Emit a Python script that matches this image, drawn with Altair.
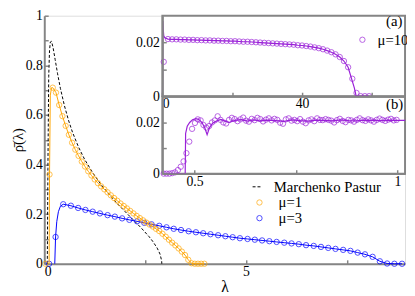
import altair as alt
import pandas as pd

# ---------------- values ----------------
# main panel: Marchenko-Pastur law (dashed)
mp_lam = [0.075, 0.09, 0.11, 0.13, 0.15, 0.18, 0.22, 0.27, 0.33, 0.40, 0.50, 0.60, 0.70, 0.85,
          1.00, 1.20, 1.40, 1.60, 1.80, 2.00, 2.20, 2.40, 2.60, 2.70, 2.80, 2.87, 2.91, 2.914]
mp_rho = [0.0, 0.385, 0.754, 0.859, 0.894, 0.897, 0.870, 0.823, 0.766, 0.707, 0.637, 0.579, 0.530, 0.470,
          0.421, 0.367, 0.321, 0.281, 0.244, 0.211, 0.178, 0.145, 0.109, 0.088, 0.063, 0.039, 0.012, 0.0]

# main panel: mu = 1 (orange)
mu1_lam = [0.03, 0.13, 0.21, 0.29, 0.37, 0.45, 0.53, 0.61, 0.69, 0.77, 0.85, 0.93, 1.01, 1.09, 1.17,
           1.25, 1.33, 1.41, 1.49, 1.57, 1.65, 1.73, 1.81, 1.89, 1.97, 2.05, 2.13, 2.21, 2.29, 2.37,
           2.45, 2.53, 2.61, 2.69, 2.77, 2.85, 2.93, 3.01, 3.09, 3.17, 3.25, 3.33, 3.41, 3.49, 3.57,
           3.65, 3.73, 3.81, 3.89, 3.97]
mu1_rho = [0.0, 0.36, 0.71, 0.69, 0.64, 0.595, 0.556, 0.52, 0.488, 0.46, 0.435, 0.412, 0.392, 0.373, 0.356,
           0.34, 0.325, 0.312, 0.3, 0.288, 0.276, 0.265, 0.254, 0.243, 0.233, 0.223, 0.213, 0.203, 0.193, 0.184,
           0.175, 0.166, 0.158, 0.15, 0.141, 0.132, 0.121, 0.109, 0.097, 0.085, 0.074, 0.062, 0.049, 0.035, 0.016,
           0.002, 0.0, 0.0, 0.0, 0.0]
mu1_head_lam = [0.12, 0.13, 0.15, 0.18]
mu1_head_rho = [0.0, 0.36, 0.68, 0.71]

# main panel: mu = 3 (blue)
mu3_lam = [0.12, 0.28, 0.47, 0.66, 0.84, 1.02, 1.20, 1.38, 1.57, 1.75, 1.93, 2.11, 2.30, 2.48, 2.66,
           2.85, 3.03, 3.21, 3.39, 3.58, 3.76, 3.94, 4.12, 4.31, 4.49, 4.67, 4.85, 5.04, 5.22, 5.40,
           5.58, 5.76, 5.95, 6.13, 6.31, 6.49, 6.68, 6.86, 7.04, 7.22, 7.41, 7.59, 7.77, 7.95, 8.14,
           8.32, 8.50, 8.68, 8.87]
mu3_rho = [0.0, 0.108, 0.240, 0.234, 0.225, 0.217, 0.210, 0.203, 0.196, 0.190, 0.183, 0.177, 0.171, 0.165, 0.159,
           0.153, 0.147, 0.141, 0.136, 0.131, 0.127, 0.123, 0.119, 0.115, 0.111, 0.107, 0.103, 0.100, 0.097, 0.094,
           0.091, 0.088, 0.085, 0.082, 0.079, 0.075, 0.072, 0.068, 0.064, 0.060, 0.056, 0.052, 0.045, 0.038, 0.028,
           0.010, 0.001, 0.0, 0.0]
mu3_head_lam = [0.26, 0.28, 0.31, 0.35, 0.40]
mu3_head_rho = [0.0, 0.108, 0.17, 0.21, 0.232]

# inset (a): mu = 10
a_lam = [0.4, 1.6, 2.8, 4.0, 5.2, 6.4, 7.6, 8.8, 10.0, 11.2, 12.4, 13.6, 14.8, 16.0, 17.2, 18.4, 19.6,
         20.8, 22.0, 23.2, 24.4, 25.6, 26.8, 28.0, 29.2, 30.4, 31.6, 32.8, 34.0, 35.2, 36.4, 37.6, 38.8,
         40.0, 41.2, 42.4, 43.6, 44.8, 46.0, 47.2, 48.4, 49.6, 50.8, 52.0, 53.2, 54.4, 55.6, 56.8, 58.0, 59.2]
a_rho = [0.0128, 0.0213, 0.0212, 0.0212, 0.0211, 0.0211, 0.0210, 0.0210, 0.0209, 0.0209, 0.0208, 0.0208,
         0.0207, 0.0207, 0.0206, 0.0206, 0.0205, 0.0205, 0.0204, 0.0203, 0.0203, 0.0202, 0.0201, 0.0200,
         0.0199, 0.0198, 0.0197, 0.0196, 0.0195, 0.0194, 0.0193, 0.0192, 0.0190, 0.0189, 0.0187, 0.0185,
         0.0182, 0.0179, 0.0175, 0.0170, 0.0164, 0.0156, 0.0146, 0.0131, 0.0108, 0.0065, 0.0012, 0.0, 0.0, 0.0]
a_line_lam = [0.05, 0.15, 0.25, 0.4, 0.7, 1.6]
a_line_rho = [0.0, 0.028, 0.025, 0.0225, 0.0218, 0.0213]
a_tail_lam = [55.0, 55.5, 59.2]
a_tail_rho = [0.003, 0.0, 0.0]

# inset (b): small-lambda detail
b_lam = [0.424, 0.431, 0.438, 0.445, 0.452, 0.459, 0.466, 0.473, 0.480, 0.487, 0.494, 0.501, 0.508, 0.515,
         0.522, 0.529, 0.536, 0.543, 0.550, 0.557, 0.564, 0.571, 0.578, 0.585, 0.592, 0.599, 0.606, 0.613,
         0.620, 0.627, 0.634, 0.641, 0.648, 0.655, 0.662, 0.669, 0.676, 0.683, 0.690, 0.697, 0.704, 0.711,
         0.718, 0.725, 0.732, 0.739, 0.746, 0.753, 0.760, 0.767, 0.774, 0.781, 0.788, 0.795, 0.802, 0.809,
         0.816, 0.823, 0.830, 0.837, 0.844, 0.851, 0.858, 0.865, 0.872, 0.879, 0.886, 0.893, 0.900, 0.907,
         0.914, 0.921, 0.928, 0.935, 0.942, 0.949, 0.956, 0.963, 0.970, 0.977, 0.984, 0.991, 0.998]
b_rho = [0.0, 0.0, 0.0, 0.0002, 0.0005, 0.0014, 0.0027, 0.0048, 0.0080, 0.0125, 0.0175, 0.0198, 0.0212, 0.0208,
         0.0190, 0.0180, 0.0186, 0.0200, 0.0208, 0.0224, 0.0210, 0.0200, 0.0196, 0.0210, 0.0218, 0.0213, 0.0205,
         0.0212, 0.0219, 0.0207, 0.0203, 0.0214, 0.0209, 0.0218, 0.0213, 0.0204, 0.0211, 0.0216, 0.0208, 0.0214,
         0.0210, 0.0199, 0.0195, 0.0212, 0.0216, 0.0207, 0.0210, 0.0205, 0.0213, 0.0203, 0.0197, 0.0208, 0.0212,
         0.0205, 0.0216, 0.0210, 0.0209, 0.0213, 0.0210, 0.0207, 0.0200, 0.0209, 0.0214, 0.0206, 0.0201, 0.0210,
         0.0208, 0.0203, 0.0210, 0.0216, 0.0209, 0.0206, 0.0212, 0.0208, 0.0203, 0.0210, 0.0215, 0.0210, 0.0206,
         0.0211, 0.0214, 0.0208, 0.0210]
b_line_lam = [0.421, 0.477, 0.478, 0.482, 0.488, 0.495, 0.503, 0.510, 0.518, 0.525, 0.531, 0.537, 0.545,
              0.555, 0.565, 0.575, 0.585, 0.600, 0.615, 0.630, 0.645, 0.660, 0.680, 0.700, 0.720, 0.740,
              0.760, 0.780, 0.800, 0.820, 0.840, 0.860, 0.880, 0.900, 0.920, 0.940, 0.960, 0.980, 1.000, 1.019]
b_line_rho = [0.0, 0.0, 0.0157, 0.0185, 0.0200, 0.0210, 0.0215, 0.0212, 0.0200, 0.0180, 0.0152, 0.0180, 0.0198,
              0.0206, 0.0212, 0.0205, 0.0200, 0.0208, 0.0211, 0.0205, 0.0210, 0.0206, 0.0209, 0.0207, 0.0204,
              0.0210, 0.0207, 0.0205, 0.0209, 0.0208, 0.0206, 0.0210, 0.0207, 0.0206, 0.0209, 0.0208, 0.0207,
              0.0209, 0.0208, 0.0208]

main_series = ["Marchenko Pastur", "μ=1", "μ=3"]
inset_series = ["μ=10"]
panel_tags = ["(a)", "(b)"]

# axis ranges / ticks
main_x_domain = [0, 8.944]
main_y_domain = [0, 1]
main_x_ticks = [0, 2.5, 5, 7.5]
main_y_ticks = [0, 0.1, 0.2, 0.3, 0.4, 0.5, 0.6, 0.7, 0.8, 0.9, 1.0]
a_x_domain = [0, 69.5]
a_x_ticks = [0, 20, 40, 60]
b_x_domain = [0.4207, 1.0187]
b_x_ticks = [0.5, 0.75, 1.0]
in_y_domain = [0, 0.03]
in_y_ticks = [0, 0.01, 0.02]

# ---------------- layout / style ----------------
SERIF = "Liberation Serif"
GRAY = "#858585"
PURPLE = "#9a20d8"
W, H = 368, 253
PAD_L, PAD_T = 37, 5
IN_X0 = 0.3273 * W
A_Y1 = 0.3243 * H
B_Y0 = 0.327 * H
B_Y1 = 0.6367 * H
TICK_FS = 14


def ax(**kw):
    base = dict(domainColor=GRAY, domainWidth=2, tickColor=GRAY, tickWidth=1.5,
                tickSize={"expr": "-4"}, labelFont=SERIF, labelFontSize=TICK_FS,
                labelColor="black", grid=False, title=None)
    base.update(kw)
    return alt.Axis(**base)


def mk(lam, rho, name=""):
    return pd.DataFrame({"lam": lam, "rho": rho, "series": name})


# ---------- main panel ----------
xm = alt.X("lam:Q", scale=alt.Scale(domain=main_x_domain, nice=False, zero=False),
           axis=ax(values=main_x_ticks, orient="bottom", labelPadding=5, format=".1~f",
                   labelExpr="(datum.value == 0 || datum.value == 5) ? datum.label : ''",
                   title="λ", titleFont=SERIF, titleFontSize=16, titleFontWeight="normal",
                   titlePadding=0, titleColor="black"))
ym = alt.Y("rho:Q", scale=alt.Scale(domain=main_y_domain, nice=False),
           axis=ax(values=main_y_ticks, orient="left", labelPadding=6, format=".1~f",
                   labelExpr="indexof([0, 0.2, 0.4, 0.6, 0.8, 1], datum.value) >= 0 ? datum.label : ''",
                   title="ρ\u0304(λ)", titleFont=SERIF, titleFontSize=15, titleFontWeight="normal",
                   titlePadding=0, titleColor="black"))

mp = alt.Chart(mk(mp_lam, mp_rho, main_series[0])).mark_line(color="black", strokeWidth=1).encode(
    x=xm, y=ym,
    strokeDash=alt.StrokeDash("series:N", scale=alt.Scale(domain=[main_series[0]], range=[[3, 2]]),
                              legend=alt.Legend(orient="none", legendX=210, legendY=167, title=None,
                                                labelFont=SERIF, labelFontSize=15, symbolStrokeColor="black",
                                                symbolSize=100, symbolStrokeWidth=1, labelOffset=9, padding=0)))

color_main = alt.Color("series:N", scale=alt.Scale(domain=main_series[1:], range=["orange", "blue"]),
                       legend=alt.Legend(orient="none", legendX=212, legendY=183, title=None,
                                         labelFont=SERIF, labelFontSize=15, symbolSize=30,
                                         symbolStrokeWidth=1, symbolType="circle", labelOffset=12,
                                         rowPadding=0, padding=0))

mu1_line = alt.Chart(mk(mu1_head_lam + mu1_lam[2:], mu1_head_rho + mu1_rho[2:])).mark_line(
    color="orange", strokeWidth=1).encode(x=xm, y=ym)
mu3_line = alt.Chart(mk(mu3_head_lam + mu3_lam[2:], mu3_head_rho + mu3_rho[2:])).mark_line(
    color="blue", strokeWidth=1).encode(x=xm, y=ym)
mu1_pts = alt.Chart(mk(mu1_lam, mu1_rho, main_series[1])).mark_point(
    shape="circle", filled=False, size=30, strokeWidth=1).encode(x=xm, y=ym, color=color_main)
mu3_pts = alt.Chart(mk(mu3_lam, mu3_rho, main_series[2])).mark_point(
    shape="circle", filled=False, size=30, strokeWidth=1).encode(x=xm, y=ym, color=color_main)

main = alt.layer(mp, mu3_line, mu3_pts, mu1_line, mu1_pts)

one = pd.DataFrame({"k": [0]})

# ---------- inset (a) ----------
xa_scale = alt.Scale(domain=a_x_domain, range=[IN_X0, W], nice=False, zero=False)
ya_scale = alt.Scale(domain=in_y_domain, range=[A_Y1, 0], nice=False)
xa_axis = ax(values=a_x_ticks, orient="bottom", offset=-(H - A_Y1), zindex=1, labelPadding=5, format="d",
             labelExpr="(datum.value == 0 || datum.value == 40) ? datum.label : ''")
ya_axis = ax(values=in_y_ticks, orient="left", offset=-IN_X0, zindex=1, labelPadding=7, format=".2~f",
             labelExpr="datum.value == 0.01 ? '' : datum.label")
xa = alt.X("lam:Q", scale=xa_scale, axis=xa_axis)
ya = alt.Y("rho:Q", scale=ya_scale, axis=ya_axis)

bg_a = alt.Chart(one).mark_rect(fill="white", stroke=GRAY, strokeWidth=2).encode(
    x=alt.X(datum=a_x_domain[0], scale=xa_scale, axis=xa_axis),
    x2=alt.datum(a_x_domain[1]),
    y=alt.Y(datum=in_y_domain[0], scale=ya_scale, axis=ya_axis),
    y2=alt.datum(in_y_domain[1]))
a_line = alt.Chart(mk(a_line_lam + a_lam[2:45] + a_tail_lam, a_line_rho + a_rho[2:45] + a_tail_rho)).mark_line(
    color=PURPLE, strokeWidth=1.2).encode(x=xa, y=ya)
a_pts = alt.Chart(mk(a_lam, a_rho, inset_series[0])).mark_point(
    shape="circle", filled=False, size=30, strokeWidth=1).encode(
    x=xa, y=ya,
    color=alt.Color("series:N", scale=alt.Scale(domain=inset_series, range=[PURPLE]),
                    legend=alt.Legend(orient="none", legendX=317, legendY=17, title=None,
                                      labelFont=SERIF, labelFontSize=15, symbolSize=30,
                                      symbolStrokeWidth=1, symbolType="circle", labelOffset=8, padding=0)))
a_txt = alt.Chart(pd.DataFrame({"lam": [66.4], "rho": [0.0279], "tag": [panel_tags[0]]})).mark_text(
    font=SERIF, fontSize=15, align="center", baseline="middle", color="black").encode(
    x=xa, y=ya, text="tag:N")
inset_a = alt.layer(bg_a, a_line, a_pts, a_txt)

# ---------- inset (b) ----------
xb_scale = alt.Scale(domain=b_x_domain, range=[IN_X0, W], nice=False, zero=False)
yb_scale = alt.Scale(domain=in_y_domain, range=[B_Y1, B_Y0], nice=False)
xb_axis = ax(values=b_x_ticks, orient="bottom", offset=-(H - B_Y1), zindex=1, labelPadding=5, format=".2~f",
             labelExpr="datum.value == 0.75 ? '' : datum.label")
yb_axis = ax(values=in_y_ticks, orient="left", offset=-IN_X0, zindex=1, labelPadding=7, format=".2~f",
             labelExpr="datum.value == 0.01 ? '' : datum.label")
xb = alt.X("lam:Q", scale=xb_scale, axis=xb_axis)
yb = alt.Y("rho:Q", scale=yb_scale, axis=yb_axis)

bg_b = alt.Chart(one).mark_rect(fill="white", stroke=GRAY, strokeWidth=2).encode(
    x=alt.X(datum=b_x_domain[0], scale=xb_scale, axis=xb_axis),
    x2=alt.datum(b_x_domain[1]),
    y=alt.Y(datum=in_y_domain[0], scale=yb_scale, axis=yb_axis),
    y2=alt.datum(in_y_domain[1]))
b_line = alt.Chart(mk(b_line_lam, b_line_rho)).mark_line(color=PURPLE, strokeWidth=1.2).encode(x=xb, y=yb)
b_pts = alt.Chart(mk(b_lam, b_rho)).mark_point(
    shape="circle", filled=False, size=30, strokeWidth=1, color=PURPLE).encode(x=xb, y=yb)
b_txt = alt.Chart(pd.DataFrame({"lam": [0.993], "rho": [0.0273], "tag": [panel_tags[1]]})).mark_text(
    font=SERIF, fontSize=15, align="center", baseline="middle", color="black").encode(
    x=xb, y=yb, text="tag:N")
inset_b = alt.layer(bg_b, b_line, b_pts, b_txt)

chart = alt.layer(main, inset_a, inset_b).resolve_scale(
    x="independent", y="independent", color="independent"
).properties(
    width=W, height=H,
    autosize=alt.AutoSizeParams(type="none"),
    padding={"left": PAD_L, "top": PAD_T, "right": 415 - 8 - PAD_L - W, "bottom": 296 - 8 - PAD_T - H},
).configure_view(
    stroke=GRAY, strokeWidth=2
).configure_axis(
    labelFont=SERIF, labelFontSize=TICK_FS, titleFont=SERIF, titleFontWeight="normal"
).configure_legend(
    labelFont=SERIF, labelFontSize=15
).configure_text(
    font=SERIF, fontSize=15
).configure(background="white", font=SERIF)

chart.save("out.html", embed_options={"renderer": "svg", "actions": False})
